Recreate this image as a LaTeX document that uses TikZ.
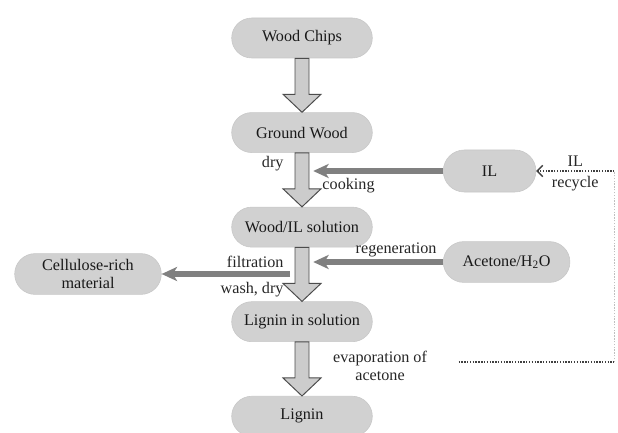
\documentclass[tikz,border=0pt]{standalone}
\usepackage{fontspec}
\setmainfont{Liberation Serif}
\usetikzlibrary{shapes.misc}
\usetikzlibrary{arrows.meta}
\usetikzlibrary{positioning}
\usetikzlibrary{calc}

\newcommand{\blockarr}[2]{\draw[blockarrow] ($(#1.south)+(-0.175,0)$) -- ($(#2.north)+(-0.175,0.45)$) -- ++(-0.3,0) -- (#2.north) -- ++(0.475,0.45) -- ++(-0.3,0) -- ($(#1.south)+(0.175,0)$) -- cycle;}

\begin{document}
\begin{tikzpicture}
\tikzset{box/.style={rounded rectangle,fill=black!18,draw=black!22,minimum width=3.75cm,minimum height=1.0cm,text=black!90,font=\fontsize{11.5}{13.5}\selectfont},
blockarrow/.style={fill=black!20,draw=black!70,line width=0.7pt,line join=miter},
feed/.style={draw=black!50,line width=3.6pt,-{Stealth[length=11pt,width=10pt,inset=3pt]}},
lbl/.style={inner sep=1pt,text=black!85,font=\fontsize{11.5}{13.5}\selectfont},
dots/.style={dash pattern=on 1pt off 1pt,line width=1pt,black!75}}
\useasboundingbox (0,0) rectangle (15.45,-10.8);
\node[box](chips) at (7.55,-0.95){Wood Chips};
\node[box](gw)[below=1.35cm of chips]{Ground Wood};
\node[box](sol)[below=1.35cm of gw]{Wood/IL solution};
\node[box](ligsol)[below=1.35cm of sol]{Lignin in solution};
\node[box](lig)[below=1.35cm of ligsol]{Lignin};
\node[box,minimum width=2.55cm,minimum height=1.05cm,anchor=west](il) at (11.075,-4.275){IL};
\node[box,minimum width=3.4cm,minimum height=1.02cm,anchor=west](ace) at (11.075,-6.55){Acetone/H\textsubscript{2}O};
\node[box,minimum width=3.9cm,minimum height=1.02cm,align=center,font=\fontsize{11.5}{12.5}\selectfont](cell) at (2.2,-6.85){Cellulose-rich\\material};
\blockarr{chips}{gw}
\blockarr{gw}{sol}
\blockarr{sol}{ligsol}
\blockarr{ligsol}{lig}
\draw[feed,shorten >=0.28cm](il.west) -- (il.west -| gw.south);
\draw[feed,shorten >=0.28cm](ace.west) -- (ace.west -| sol.south);
\draw[feed,shorten <=0.3cm](cell.east -| sol.south) -- (cell.east);
\node[lbl,anchor=east](dry) at ([xshift=-0.42cm,yshift=-0.27cm]gw.south){dry};
\node[lbl,anchor=west](cook) at ([xshift=0.47cm,yshift=-0.82cm]gw.south){cooking};
\node[lbl,anchor=east](filt) at ([xshift=-0.42cm,yshift=-0.37cm]sol.south){filtration};
\node[lbl,anchor=east](wash) at ([xshift=-0.42cm,yshift=-1.05cm]sol.south){wash, dry};
\node[lbl,anchor=south east](regen) at ([xshift=-0.12cm,yshift=0.08cm]ace.west){regeneration};
\node[lbl,align=center,font=\fontsize{11.5}{12.5}\selectfont](evap) at (9.5,-9.15){evaporation of\\acetone};
\coordinate (corner) at (15.36,-9.05);
\draw[dots](evap.east |- corner) ++(0.75,0) -- (corner);
\draw[dots,black!25](corner) -- (corner |- il.east);
\draw[dots,-{Straight Barb[length=4pt,width=8pt]}](corner |- il.east) -- (il.east) node[lbl,midway,above=2pt]{IL} node[lbl,midway,below=2pt]{recycle};
\end{tikzpicture}
\end{document}
